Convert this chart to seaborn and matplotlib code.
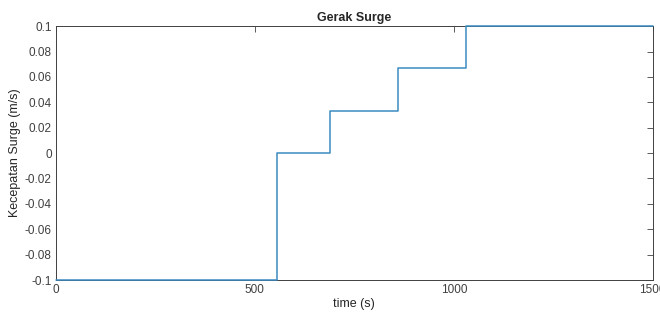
import matplotlib
matplotlib.use("Agg")
import matplotlib.pyplot as plt
import seaborn as sns
import pandas as pd
import numpy as np

# step change times (s) and surge velocity levels (m/s)
time_s = [0, 555, 688, 859, 1030, 1500]
surge_speed = [-0.1, 0.0, 0.0333, 0.0667, 0.1, 0.1]

df = pd.DataFrame({"time": time_s, "speed": surge_speed})

sns.set_style("white")
plt.rcParams['font.family'] = ['Liberation Sans', 'DejaVu Sans']

fig = plt.figure(figsize=(6.6, 3.15), dpi=100)
ax = fig.add_axes([0.0848, 0.111, 0.9042, 0.806])

sns.lineplot(data=df, x="time", y="speed", drawstyle="steps-post",
             color="#3a8cc1", linewidth=1.1, ax=ax)
# the line sits on the box edges at +/-0.1, keep it visible above spines
for ln in ax.get_lines():
    ln.set_clip_on(False)
    ln.set_zorder(5)

ax.set_xlim(0, 1500)
ax.set_ylim(-0.1, 0.1)
ax.set_xticks([0, 500, 1000, 1500])
ax.set_yticks(np.round(np.arange(-0.1, 0.1001, 0.02), 2))
ax.set_yticklabels(["-0.1", "-0.08", "-0.06", "-0.04", "-0.02", "0",
                    "0.02", "0.04", "0.06", "0.08", "0.1"])

ax.tick_params(direction="in", length=4, width=0.6, colors="#404040",
               labelsize=8.5, top=True, right=True, pad=3)
for sp in ax.spines.values():
    sp.set_color("#404040")
    sp.set_linewidth(0.7)
    sp.set_zorder(2)

ax.set_title("Gerak Surge", fontsize=9, fontweight="bold", pad=4)
ax.set_xlabel("time (s)", fontsize=9, color="#262626", labelpad=1)
ax.set_ylabel("Kecepatan Surge (m/s)", fontsize=9, color="#262626", labelpad=3)

fig.savefig("out.png", dpi=100)
